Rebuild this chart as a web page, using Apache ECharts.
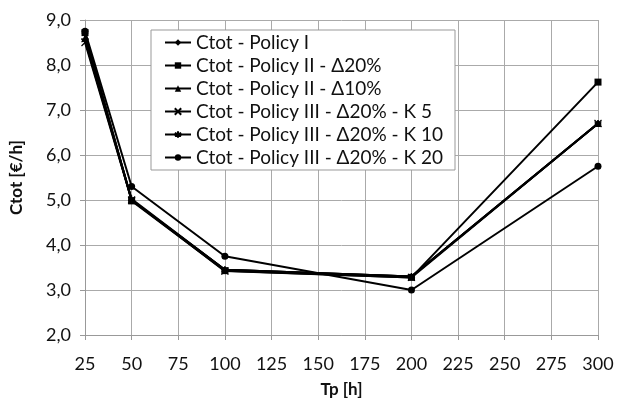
<!DOCTYPE html>
<html><head><meta charset="utf-8">
<script src="https://cdn.jsdelivr.net/npm/echarts@6/dist/echarts.min.js"></script>
<style>html,body{margin:0;padding:0;background:#fff}#c{width:617px;height:403px}</style>
</head><body><div id="c"></div>
<script>
const tp = [25, 50, 100, 200, 300];
const seriesNames = [
  "Ctot - Policy I",
  "Ctot - Policy II - Δ20%",
  "Ctot - Policy II - Δ10%",
  "Ctot - Policy III - Δ20% - K 5",
  "Ctot - Policy III - Δ20% - K 10",
  "Ctot - Policy III - Δ20% - K 20"
];
const policyI      = [8.70, 5.00, 3.45, 3.30, 6.70];
const policyII20   = [8.72, 4.98, 3.43, 3.28, 7.62];
const policyII10   = [8.60, 5.00, 3.45, 3.30, 6.70];
const policyIIIK5  = [8.50, 5.00, 3.42, 3.28, 6.70];
const policyIIIK10 = [8.55, 5.02, 3.45, 3.30, 6.70];
const policyIIIK20 = [8.75, 5.30, 3.75, 3.00, 5.75];
const values = [policyI, policyII20, policyII10, policyIIIK5, policyIIIK10, policyIIIK20];

const xPath = 'path://M0,0L10,10M10,0L0,10';
const starPath = 'path://M5,0L5,10M0,2.5L10,7.5M10,2.5L0,7.5';
const symbols = ['diamond', 'rect', 'triangle', xPath, starPath, 'circle'];

const chart = echarts.init(document.getElementById('c'));
const font = 'Lato, "Open Sans", sans-serif';
chart.setOption({
  animation: false,
  backgroundColor: '#fff',
  grid: { left: 84, right: 19, top: 20, bottom: 63 },
  legend: {
    orient: 'vertical', left: 151, top: 30,
    data: seriesNames,
    backgroundColor: '#fff', borderColor: '#999', borderWidth: 1,
    padding: [3, 12, 3, 13], itemGap: 4, itemWidth: 26, itemHeight: 8,
    textStyle: { fontFamily: font, fontSize: 19, lineHeight: 19, color: '#111' }
  },
  xAxis: {
    type: 'value', min: 25, max: 300, interval: 25,
    name: 'Tp [h]', nameLocation: 'middle', nameGap: 46,
    nameTextStyle: { fontFamily: font, fontSize: 17, fontWeight: 'bold', color: '#111' },
    axisLine: { show: true, lineStyle: { color: '#999' } },
    axisTick: { show: true, length: 5, lineStyle: { color: '#999' } },
    axisLabel: { fontFamily: font, fontSize: 18, color: '#111', margin: 20 },
    splitLine: { show: true, lineStyle: { color: '#aaa' } }
  },
  yAxis: {
    type: 'value', min: 2, max: 9, interval: 1,
    name: 'Ctot [€/h]', nameLocation: 'middle', nameGap: 60,
    nameTextStyle: { fontFamily: font, fontSize: 17, fontWeight: 'bold', color: '#111' },
    axisLine: { show: true, lineStyle: { color: '#999' } },
    axisTick: { show: true, length: 5, lineStyle: { color: '#999' } },
    axisLabel: { fontFamily: font, fontSize: 18, color: '#111', margin: 14, padding: [5, 0, 0, 0],
      formatter: v => v.toFixed(1).replace('.', ',') },
    splitLine: { show: true, lineStyle: { color: '#aaa' } }
  },
  series: seriesNames.map((n, i) => ({
    name: n, type: 'line',
    data: tp.map((t, j) => [t, values[i][j]]),
    symbol: symbols[i], symbolSize: 7, showSymbol: true,
    itemStyle: { color: '#000', borderColor: '#000', borderWidth: (i === 3 || i === 4) ? 1.2 : 0 },
    lineStyle: { color: '#000', width: 2 }
  }))
});
</script></body></html>
